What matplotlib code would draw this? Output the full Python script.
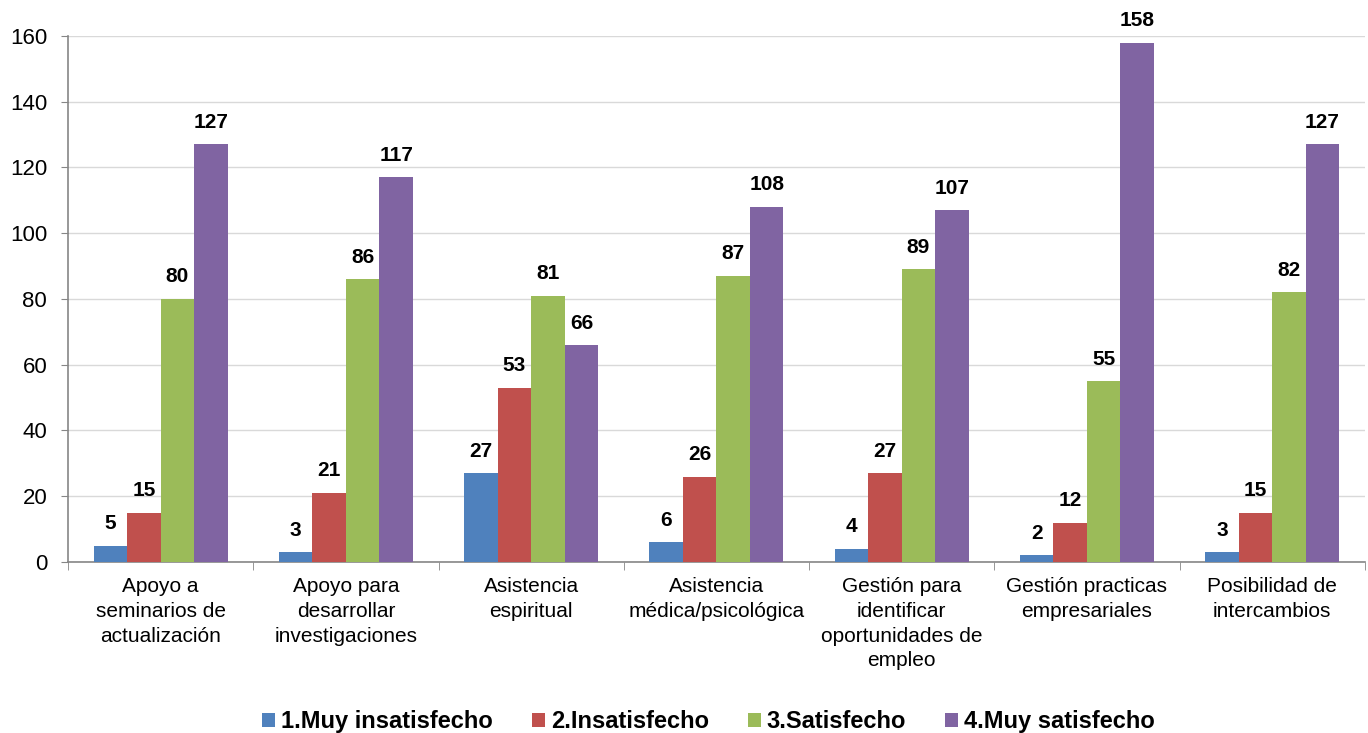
import numpy as np
import matplotlib
matplotlib.use("Agg")
import matplotlib.pyplot as plt

plt.rcParams['font.family'] = ['Liberation Sans', 'DejaVu Sans']

# Data
categories = [
    "Apoyo a\nseminarios de\nactualización",
    "Apoyo para\ndesarrollar\ninvestigaciones",
    "Asistencia\nespiritual",
    "Asistencia\nmédica/psicológica",
    "Gestión para\nidentificar\noportunidades de\nempleo",
    "Gestión practicas\nempresariales",
    "Posibilidad de\nintercambios",
]
series_names = ["1.Muy insatisfecho", "2.Insatisfecho", "3.Satisfecho", "4.Muy satisfecho"]
muy_insatisfecho = [5, 3, 27, 6, 4, 2, 3]
insatisfecho = [15, 21, 53, 26, 27, 12, 15]
satisfecho = [80, 86, 81, 87, 89, 55, 82]
muy_satisfecho = [127, 117, 66, 108, 107, 158, 127]
colors = ["#4f81bd", "#c0504d", "#9bbb59", "#8064a2"]

fig = plt.figure(figsize=(13.68, 7.33), dpi=100)
ax = fig.add_axes([0.0497, 0.2333, 0.948, 0.7176])

x = np.arange(len(categories))
w = 0.181
all_series = [muy_insatisfecho, insatisfecho, satisfecho, muy_satisfecho]
for i, vals in enumerate(all_series):
    pos = x + (i - 1.5) * w
    ax.bar(pos, vals, w, color=colors[i], label=series_names[i], zorder=3)
    for p, v in zip(pos, vals):
        ax.annotate(str(v), (p, v), xytext=(0, 9), textcoords='offset points',
                    ha='center', va='bottom', fontsize=15, fontweight='bold')

ax.set_xlim(-0.5, len(categories) - 0.5)
ax.set_ylim(0, 160)
ax.set_yticks(np.arange(0, 161, 20))
ax.tick_params(axis='y', labelsize=16, length=5, color='#868686', pad=10)
ax.set_xticks(x)
ax.set_xticklabels(categories, fontsize=15, linespacing=1.38)
ax.tick_params(axis='x', length=0, pad=11)
ax.set_xticks(np.arange(-0.5, len(categories)), minor=True)
ax.tick_params(axis='x', which='minor', length=6, color='#868686')

ax.grid(axis='y', color='#d9d9d9', linewidth=1, zorder=0)
for s in ['top', 'right']:
    ax.spines[s].set_visible(False)
for s in ['left', 'bottom']:
    ax.spines[s].set_color('#868686')
    ax.spines[s].set_linewidth(1.2)

fig.legend(loc='lower center', ncol=4, frameon=False, bbox_to_anchor=(0.518, -0.029),
           prop={'weight': 'bold', 'size': 17}, handlelength=0.55, handleheight=0.55,
           handletextpad=0.25, columnspacing=1.65)

fig.savefig("out.png", dpi=100)
